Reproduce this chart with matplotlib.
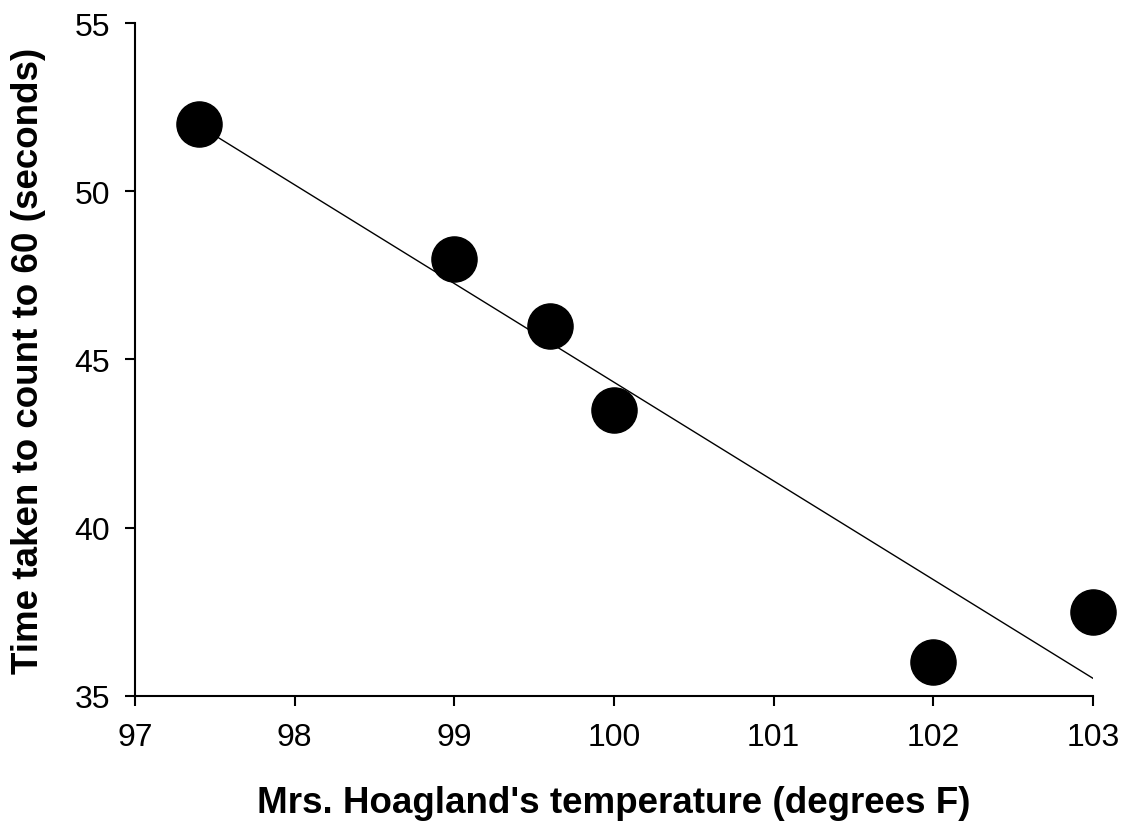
import numpy as np
import matplotlib.pyplot as plt

plt.rcParams['font.family'] = ['Liberation Sans', 'DejaVu Sans']

# --- Data ---
temp_f = np.array([97.4, 99.0, 99.6, 100.0, 102.0, 103.0])
count_s = np.array([52.0, 48.0, 46.0, 43.5, 36.0, 37.5])

# least-squares trend line over the data range
coef = np.polyfit(temp_f, count_s, 1)
x_fit = np.array([temp_f.min(), temp_f.max()])
y_fit = np.polyval(coef, x_fit)

fig = plt.figure(figsize=(11.29, 8.29), dpi=100)
ax = fig.add_axes([0.1196, 0.1596, 0.8486, 0.8111])

ax.plot(x_fit, y_fit, color='black', lw=1.0, zorder=2)
ax.plot(temp_f, count_s, 'o', color='black', markersize=32.5, zorder=3, clip_on=False)

ax.set_xlim(97, 103)
ax.set_ylim(35, 55)
ax.set_xticks(range(97, 104))
ax.set_yticks(range(35, 56, 5))

for side in ('top', 'right'):
    ax.spines[side].set_visible(False)
for side in ('left', 'bottom'):
    ax.spines[side].set_linewidth(1.5)

ax.tick_params(direction='out', length=7, width=1.5, labelsize=23)
ax.tick_params(axis='x', pad=12)
ax.tick_params(axis='y', pad=11)

ax.set_xlabel("Mrs. Hoagland's temperature (degrees F)", fontsize=26.5, fontweight='bold')
ax.set_ylabel("Time taken to count to 60 (seconds)", fontsize=26.5, fontweight='bold')
ax.xaxis.label.set_va('center')
ax.yaxis.label.set_va('center')
ax.xaxis.set_label_coords(0.5, -0.159)
ax.yaxis.set_label_coords(-0.111, 0.5)

fig.savefig('out.png', dpi=100)
